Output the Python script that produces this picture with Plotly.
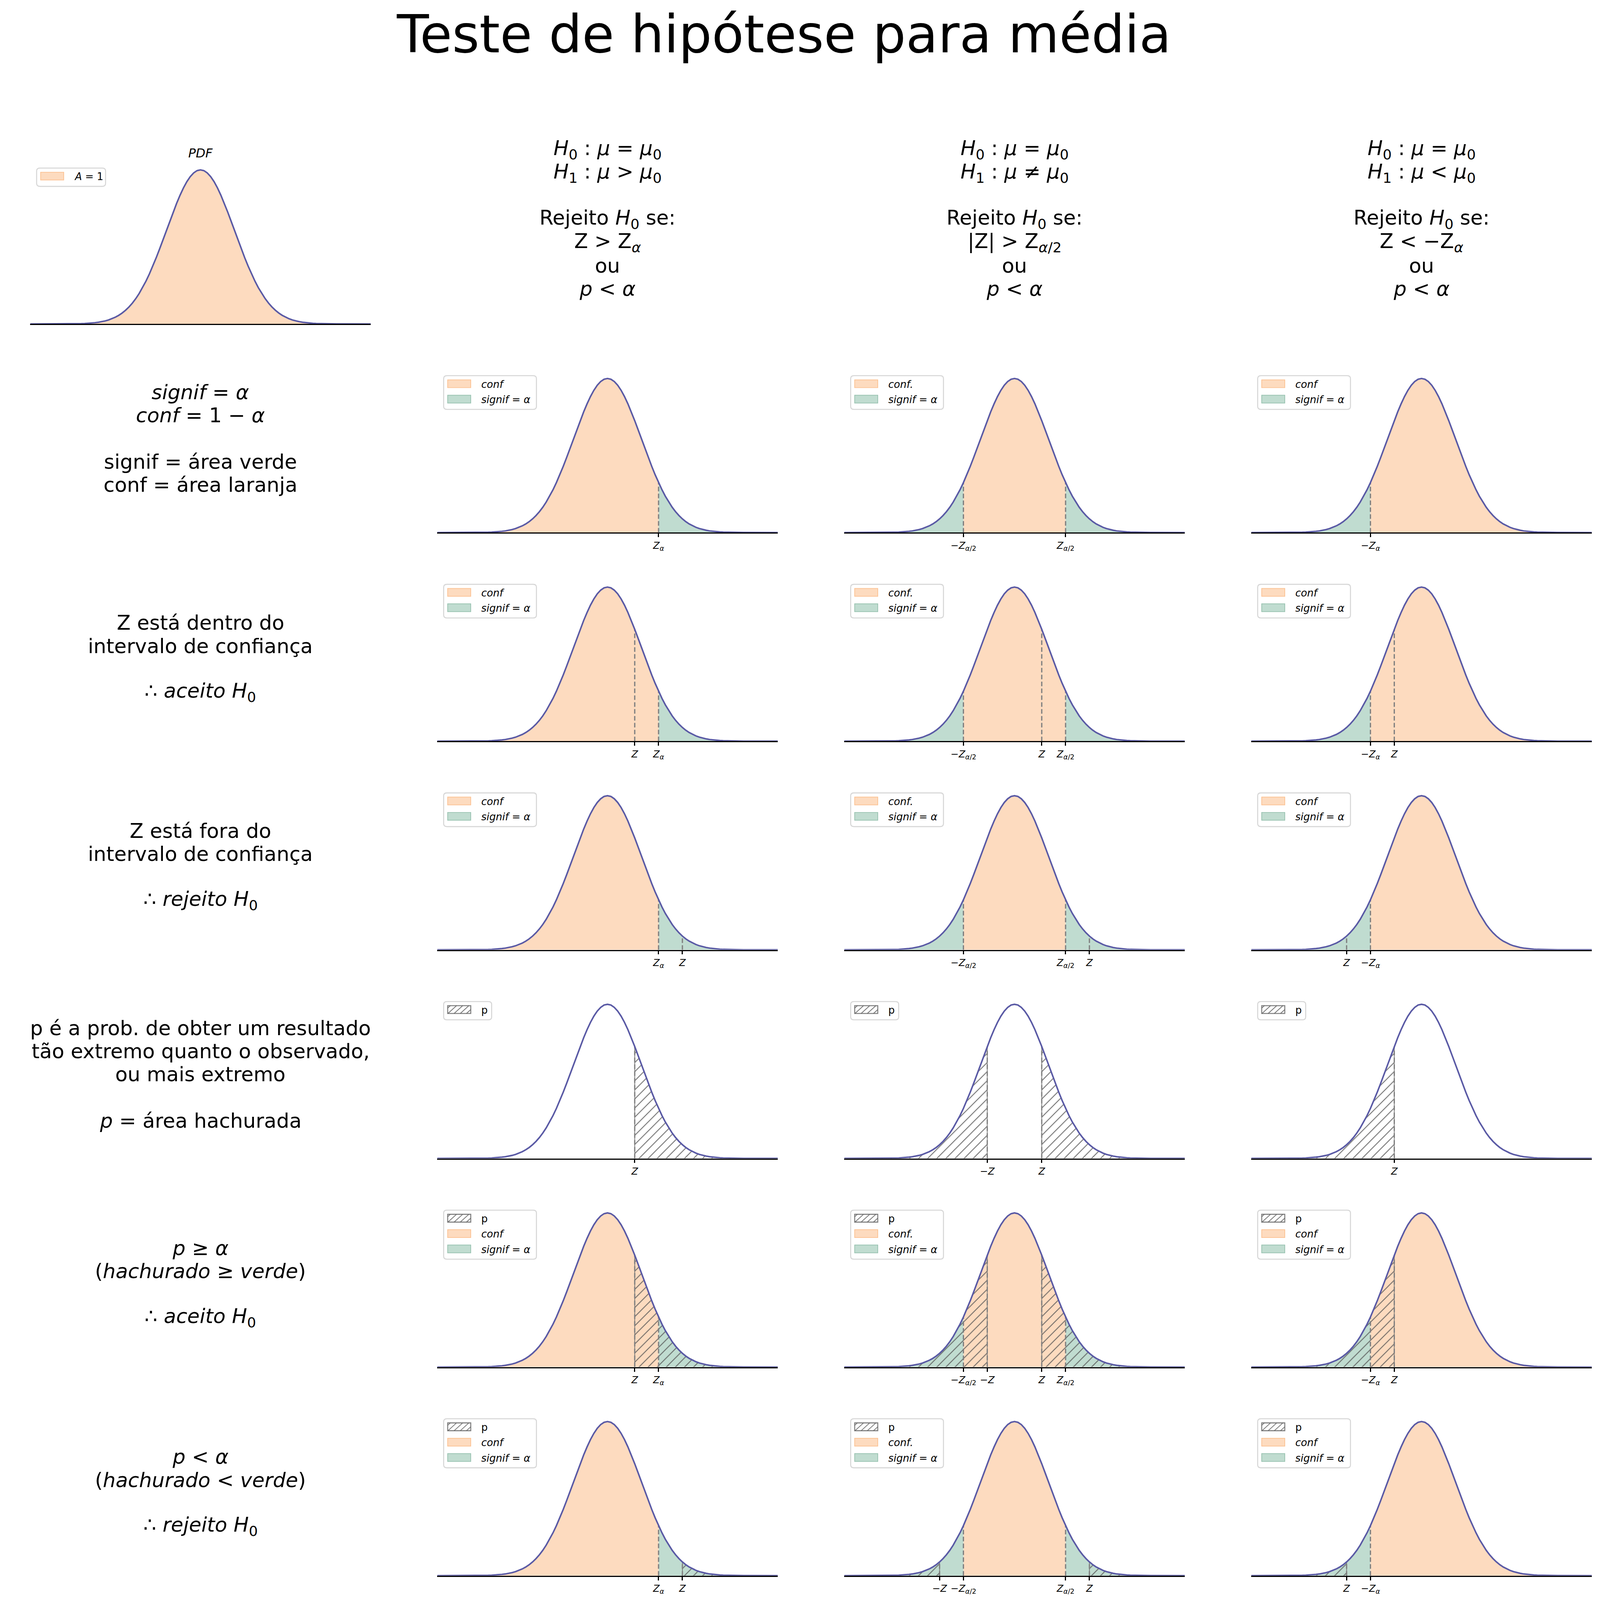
import plotly.graph_objects as go

# ---------------- data ----------------
x_grid = [-5.0,
          -4.0, -3.9, -3.8, -3.7, -3.6, -3.5, -3.4, -3.3, -3.2, -3.1,
          -3.0, -2.9, -2.8, -2.7, -2.6, -2.5, -2.4, -2.3, -2.2, -2.1,
          -2.0, -1.9, -1.8, -1.7, -1.6, -1.5, -1.4, -1.3, -1.2, -1.1,
          -1.0, -0.9, -0.8, -0.7, -0.6, -0.5, -0.4, -0.3, -0.2, -0.1,
          0.0,
          0.1, 0.2, 0.3, 0.4, 0.5, 0.6, 0.7, 0.8, 0.9, 1.0,
          1.1, 1.2, 1.3, 1.4, 1.5, 1.6, 1.7, 1.8, 1.9, 2.0,
          2.1, 2.2, 2.3, 2.4, 2.5, 2.6, 2.7, 2.8, 2.9, 3.0,
          3.1, 3.2, 3.3, 3.4, 3.5, 3.6, 3.7, 3.8, 3.9, 4.0,
          5.0]
pdf_vals = [0.0,
            0.0001, 0.0002, 0.0003, 0.0004, 0.0006, 0.0009, 0.0012, 0.0017, 0.0024, 0.0033,
            0.0044, 0.0060, 0.0079, 0.0104, 0.0136, 0.0175, 0.0224, 0.0283, 0.0355, 0.0440,
            0.0540, 0.0656, 0.0790, 0.0940, 0.1109, 0.1295, 0.1497, 0.1714, 0.1942, 0.2179,
            0.2420, 0.2661, 0.2897, 0.3123, 0.3332, 0.3521, 0.3683, 0.3814, 0.3910, 0.3970,
            0.3989,
            0.3970, 0.3910, 0.3814, 0.3683, 0.3521, 0.3332, 0.3123, 0.2897, 0.2661, 0.2420,
            0.2179, 0.1942, 0.1714, 0.1497, 0.1295, 0.1109, 0.0940, 0.0790, 0.0656, 0.0540,
            0.0440, 0.0355, 0.0283, 0.0224, 0.0175, 0.0136, 0.0104, 0.0079, 0.0060, 0.0044,
            0.0033, 0.0024, 0.0017, 0.0012, 0.0009, 0.0006, 0.0004, 0.0003, 0.0002, 0.0001,
            0.0]

Z_CRIT = 1.5      # Z_alpha and Z_alpha/2 as drawn
Z_DENTRO = 0.8    # Z inside the confidence interval
Z_FORA = 2.2      # Z outside the confidence interval
X_MIN, X_MAX = -5.0, 5.0

title_text = "Teste de hipótese para média"
pdf_title = "<i>PDF</i>"
pdf_legend = "<i>A</i> = 1"

header_texts = [
    ["<i>H</i><sub>0</sub> : <i>μ</i> = <i>μ</i><sub>0</sub>",
     "<i>H</i><sub>1</sub> : <i>μ</i> &gt; <i>μ</i><sub>0</sub>", "",
     "Rejeito <i>H</i><sub>0</sub> se:", "Z &gt; Z<sub><i>α</i></sub>", "ou",
     "<i>p</i> &lt; <i>α</i>"],
    ["<i>H</i><sub>0</sub> : <i>μ</i> = <i>μ</i><sub>0</sub>",
     "<i>H</i><sub>1</sub> : <i>μ</i> ≠ <i>μ</i><sub>0</sub>", "",
     "Rejeito <i>H</i><sub>0</sub> se:", "|Z| &gt; Z<sub><i>α</i>/2</sub>", "ou",
     "<i>p</i> &lt; <i>α</i>"],
    ["<i>H</i><sub>0</sub> : <i>μ</i> = <i>μ</i><sub>0</sub>",
     "<i>H</i><sub>1</sub> : <i>μ</i> &lt; <i>μ</i><sub>0</sub>", "",
     "Rejeito <i>H</i><sub>0</sub> se:", "Z &lt; −Z<sub><i>α</i></sub>", "ou",
     "<i>p</i> &lt; <i>α</i>"],
]

row_texts = [
    ["<i>signif</i> = <i>α</i>", "<i>conf</i> = 1 − <i>α</i>", "",
     "signif = área verde", "conf = área laranja"],
    ["Z está dentro do", "intervalo de confiança", "", "∴ <i>aceito H</i><sub>0</sub>"],
    ["Z está fora do", "intervalo de confiança", "", "∴ <i>rejeito H</i><sub>0</sub>"],
    ["p é a prob. de obter um resultado", "tão extremo quanto o observado,",
     "ou mais extremo", "", "<i>p</i> = área hachurada"],
    ["<i>p</i> ≥ <i>α</i>", "(<i>hachurado</i> ≥ <i>verde</i>)", "",
     "∴ <i>aceito H</i><sub>0</sub>"],
    ["<i>p</i> &lt; <i>α</i>", "(<i>hachurado</i> &lt; <i>verde</i>)", "",
     "∴ <i>rejeito H</i><sub>0</sub>"],
]

L_ZA = "<i>Z</i><sub><i>α</i></sub>"
L_MZA = "−<i>Z</i><sub><i>α</i></sub>"
L_ZA2 = "<i>Z</i><sub><i>α</i>/2</sub>"
L_MZA2 = "−<i>Z</i><sub><i>α</i>/2</sub>"
L_Z = "<i>Z</i>"
L_MZ = "−<i>Z</i>"

conf_labels = ["<i>conf</i>", "<i>conf.</i>", "<i>conf</i>"]
signif_label = "<i>signif</i> = <i>α</i>"
p_label = "p"

# ---------------- styling / layout ----------------
REF_W, REF_H = 5944, 6532          # reference pixel system used for placement
W, H = 4080, 4080                  # page size that fits the browser viewport
SX, SY = W / REF_W, H / REF_H
S = 0.65                           # size scale for line widths / small fonts
def P(v):
    return v * S

FONT = "DejaVu Sans"
ORANGE = "rgb(253,219,191)"
ORANGE_EDGE = "rgb(252,196,150)"
GREEN = "rgb(192,220,208)"
GREEN_EDGE = "rgb(155,196,178)"
CURVE = "rgb(90,90,165)"
DASH = "rgb(128,128,128)"

AX_W, AX_H = 1270, 665                     # reference px
COL_LEFT = [101, 1619, 3137, 4655]
ROW_BASE = [1315 + 855 * k for k in range(7)]
TEXT_FS = 82
TEXT_SCALE = 0.63
PITCH = 95
header_first_base = 629
row_first_base = [1623, 2568, 3421, 4229, 5130, 5986]

fig = go.Figure()
layout = {}
annotations = []
shapes = []


def seg(lo, hi):
    xs, ys = [], []
    for xv, yv in zip(x_grid, pdf_vals):
        if lo - 1e-9 <= xv <= hi + 1e-9:
            xs.append(xv)
            ys.append(yv)
    return xs, ys


def pdf_at(z):
    for xv, yv in zip(x_grid, pdf_vals):
        if abs(xv - z) < 1e-9:
            return yv
    return 0.0


def axis_names(n):
    return ("x" if n == 1 else f"x{n}", "y" if n == 1 else f"y{n}")


def add_axes(n, col, row, ticks):
    left = COL_LEFT[col]
    base = ROW_BASE[row]
    xa, ya = axis_names(n)
    xk = "xaxis" if n == 1 else f"xaxis{n}"
    yk = "yaxis" if n == 1 else f"yaxis{n}"
    tv = [t[0] for t in ticks]
    tt = [t[1] for t in ticks]
    layout[xk] = dict(domain=[left / REF_W, (left + AX_W) / REF_W], range=[X_MIN, X_MAX],
                      anchor=ya, showgrid=False, zeroline=False, showline=True,
                      linecolor="black", linewidth=P(4),
                      ticks="outside" if ticks else "", ticklen=P(14), tickwidth=P(4),
                      tickcolor="black", tickvals=tv, ticktext=tt, tickangle=0,
                      showticklabels=bool(ticks),
                      tickfont=dict(size=P(38), color="black", family=FONT),
                      fixedrange=True)
    layout[yk] = dict(domain=[1 - base / REF_H, 1 - (base - AX_H) / REF_H], range=[0, 0.42],
                      anchor=xa, visible=False, fixedrange=True)


def add_fill(n, lo, hi, color):
    xa, ya = axis_names(n)
    xs, ys = seg(lo, hi)
    fig.add_trace(go.Scatter(x=[xs[0]] + xs + [xs[-1]], y=[0] + ys + [0],
                             mode="lines", fill="toself", fillcolor=color,
                             line=dict(width=0, color=color), xaxis=xa, yaxis=ya,
                             hoverinfo="skip", showlegend=False))


def add_hatch(n, lo, hi):
    xa, ya = axis_names(n)
    xs, ys = seg(lo, hi)
    fig.add_trace(go.Scatter(x=[xs[0]] + xs + [xs[-1]], y=[0] + ys + [0],
                             mode="lines", fill="toself", fillcolor="rgba(0,0,0,0)",
                             fillpattern=dict(shape="/", fgcolor="rgba(85,85,85,0.8)",
                                              bgcolor="rgba(0,0,0,0)", size=24 * SX,
                                              solidity=0.14, fillmode="replace"),
                             line=dict(width=P(3), color="rgba(110,110,110,0.9)"),
                             xaxis=xa, yaxis=ya, hoverinfo="skip", showlegend=False))


def add_dash(n, z):
    xa, ya = axis_names(n)
    fig.add_trace(go.Scatter(x=[z, z], y=[0, pdf_at(z)], mode="lines",
                             line=dict(color=DASH, width=P(5),
                                       dash=f"{P(18):.1f}px,{P(9):.1f}px"),
                             xaxis=xa, yaxis=ya, hoverinfo="skip", showlegend=False))


def add_curve(n):
    xa, ya = axis_names(n)
    fig.add_trace(go.Scatter(x=x_grid, y=pdf_vals, mode="lines",
                             line=dict(color=CURVE, width=P(6)), xaxis=xa, yaxis=ya,
                             hoverinfo="skip", showlegend=False))


def rounded_rect(x0, y0, x1, y1, rx, ry):
    return (f"M{x0 + rx},{y1} L{x1 - rx},{y1} Q{x1},{y1} {x1},{y1 - ry} "
            f"L{x1},{y0 + ry} Q{x1},{y0} {x1 - rx},{y0} L{x0 + rx},{y0} "
            f"Q{x0},{y0} {x0},{y0 + ry} L{x0},{y1 - ry} Q{x0},{y1} {x0 + rx},{y1} Z")


def add_legend(n, items, box_w, top_off=22, left_off=24):
    xa, ya = axis_names(n)
    xr, yr = f"{xa} domain", f"{ya} domain"
    fx = lambda px: px / AX_W
    fy = lambda px: 1 - px / AX_H
    box_h = 12 + 63 * len(items)
    shapes.append(dict(type="path", xref=xr, yref=yr,
                       path=rounded_rect(fx(left_off), fy(top_off + box_h),
                                         fx(left_off + box_w), fy(top_off),
                                         fx(12), 12 / AX_H),
                       fillcolor="rgba(255,255,255,0.8)",
                       line=dict(color="rgb(214,214,214)", width=P(4)), layer="above"))
    for i, (kind, label) in enumerate(items):
        st = top_off + 17 + 63 * i
        sx0, sx1 = left_off + 15, left_off + 15 + 86
        if kind == "hatch":
            shapes.append(dict(type="rect", xref=xr, yref=yr, x0=fx(sx0), x1=fx(sx1),
                               y0=fy(st + 32), y1=fy(st), fillcolor="white",
                               line=dict(color="rgb(128,128,128)", width=P(4)), layer="above"))
            segs = []
            c = -22
            while c < 86:
                u0 = max(c, 0)
                u1 = min(86, 32 + c)
                if u1 > u0:
                    segs.append(f"M{fx(sx0 + u0)},{fy(st + 32 - (u0 - c))} "
                                f"L{fx(sx0 + u1)},{fy(st + 32 - (u1 - c))}")
                c += 23
            shapes.append(dict(type="path", xref=xr, yref=yr, path=" ".join(segs),
                               line=dict(color="rgba(100,100,100,0.9)", width=P(3)),
                               layer="above"))
        else:
            fc, ec = (ORANGE, ORANGE_EDGE) if kind == "conf" else (GREEN, GREEN_EDGE)
            shapes.append(dict(type="rect", xref=xr, yref=yr, x0=fx(sx0), x1=fx(sx1),
                               y0=fy(st + 32), y1=fy(st), fillcolor=fc,
                               line=dict(color=ec, width=P(3)), layer="above"))
        annotations.append(dict(xref=xr, yref=yr, x=fx(left_off + 137), y=fy(st + 18),
                                text=label, showarrow=False, xanchor="left",
                                yanchor="middle",
                                font=dict(size=P(40), family=FONT, color="black")))


def text_line(x_px, base_px, txt, size=TEXT_FS, scale=TEXT_SCALE):
    if not txt:
        return
    annotations.append(dict(xref="paper", yref="paper", x=x_px / REF_W,
                            y=1 - (base_px - 0.346 * size) / REF_H, text=txt,
                            showarrow=False, xanchor="center", yanchor="middle",
                            font=dict(size=size * scale, family=FONT, color="black")))


# ---------------- row 0 ----------------
add_axes(1, 0, 0, [])
add_fill(1, X_MIN, X_MAX, ORANGE)
add_curve(1)
add_legend(1, [("conf", pdf_legend)], 257, top_off=26)
text_line(COL_LEFT[0] + AX_W / 2, 632, pdf_title, 49, S)
for c in range(3):
    cx = COL_LEFT[c + 1] + AX_W / 2
    for i, t in enumerate(header_texts[c]):
        text_line(cx, header_first_base + PITCH * i, t)

# ---------------- rows 1..6 ----------------
n = 1
for r in range(1, 7):
    cx0 = COL_LEFT[0] + AX_W / 2
    for i, t in enumerate(row_texts[r - 1]):
        text_line(cx0, row_first_base[r - 1] + PITCH * i, t)

    zval = {2: Z_DENTRO, 3: Z_FORA, 4: Z_DENTRO, 5: Z_DENTRO, 6: Z_FORA}.get(r)
    has_base = r != 4
    has_hatch = r >= 4

    for c in range(3):
        n += 1
        mode = ["dir", "bi", "esq"][c]
        ticks, dashes = [], []
        if has_base:
            if mode == "dir":
                add_fill(n, X_MIN, Z_CRIT, ORANGE)
                add_fill(n, Z_CRIT, X_MAX, GREEN)
                ticks.append((Z_CRIT, L_ZA)); dashes.append(Z_CRIT)
            elif mode == "bi":
                add_fill(n, -Z_CRIT, Z_CRIT, ORANGE)
                add_fill(n, X_MIN, -Z_CRIT, GREEN)
                add_fill(n, Z_CRIT, X_MAX, GREEN)
                ticks += [(-Z_CRIT, L_MZA2), (Z_CRIT, L_ZA2)]
                dashes += [-Z_CRIT, Z_CRIT]
            else:
                add_fill(n, X_MIN, -Z_CRIT, GREEN)
                add_fill(n, -Z_CRIT, X_MAX, ORANGE)
                ticks.append((-Z_CRIT, L_MZA)); dashes.append(-Z_CRIT)
        if zval is not None:
            if mode == "dir":
                ticks.append((zval, L_Z)); dashes.append(zval)
                if has_hatch:
                    add_hatch(n, zval, X_MAX)
            elif mode == "bi":
                ticks.append((zval, L_Z)); dashes.append(zval)
                if has_hatch:
                    ticks.append((-zval, L_MZ)); dashes.append(-zval)
                    add_hatch(n, X_MIN, -zval)
                    add_hatch(n, zval, X_MAX)
            else:
                ticks.append((-zval, L_Z)); dashes.append(-zval)
                if has_hatch:
                    add_hatch(n, X_MIN, -zval)
        for z in dashes:
            add_dash(n, z)
        add_curve(n)
        ticks.sort(key=lambda t: t[0])
        add_axes(n, c + 1, r, ticks)

        items = []
        if has_hatch:
            items.append(("hatch", p_label))
        if has_base:
            items += [("conf", conf_labels[c]), ("signif", signif_label)]
        add_legend(n, items, 346 if has_base else 179)

# ---------------- title ----------------
annotations.append(dict(xref="paper", yref="paper", x=2912 / REF_W, y=1.0,
                        text=title_text, showarrow=False, xanchor="center",
                        yanchor="top", font=dict(size=200 * 0.67, family=FONT, color="black")))

fig.update_layout(width=W, height=H, margin=dict(l=0, r=0, t=0, b=0),
                  paper_bgcolor="white", plot_bgcolor="white", showlegend=False,
                  annotations=annotations, shapes=shapes, **layout)
fig.write_html("out.html")
